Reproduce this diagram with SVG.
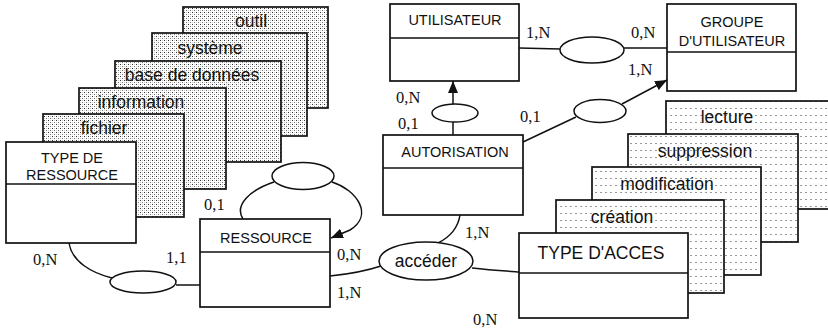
<svg xmlns="http://www.w3.org/2000/svg" width="828" height="330" viewBox="0 0 828 330">
<style>
.box{fill:#fff;stroke:#111;stroke-width:1.7}
.dense{fill:url(#dense);stroke:#111;stroke-width:1.7}
.sparse{fill:url(#sparse);stroke:#111;stroke-width:1.7}
.ln{fill:none;stroke:#111;stroke-width:1.5}
.ell{fill:#fff;stroke:#111;stroke-width:1.5}
.t{font-family:"Liberation Sans",Arial,sans-serif;font-size:14.5px;fill:#111;text-anchor:middle}
.tl{font-family:"Liberation Sans",Arial,sans-serif;font-size:17.5px;fill:#111;text-anchor:middle}
.c{font-family:"Liberation Serif","Times New Roman",serif;font-size:16.5px;fill:#111}
</style>
<defs>
<pattern id="dense" width="4" height="4" patternUnits="userSpaceOnUse">
<rect width="4" height="4" fill="#fff"/>
<rect x="0" y="0" width="1" height="1" fill="#333"/>
<rect x="2" y="2" width="1" height="1" fill="#777"/>
<rect x="2" y="0" width="1" height="1" fill="#ccc"/>
<rect x="0" y="2" width="1" height="1" fill="#ccc"/>
</pattern>
<pattern id="sparse" width="5" height="7" patternUnits="userSpaceOnUse">
<rect width="5" height="7" fill="#fff"/>
<rect x="0" y="3" width="2" height="1" fill="#999"/>
</pattern>
<marker id="arr" viewBox="0 0 12 10" refX="12" refY="5" markerWidth="12" markerHeight="10" markerUnits="userSpaceOnUse" orient="auto">
<path d="M0,0 L12,5 L0,10 z" fill="#111"/>
</marker>
</defs>
<rect width="828" height="330" fill="#fff"/>

<g id="stack-ressource">
<rect class="dense" x="183" y="7" width="145" height="101"/>
<text class="tl" x="251" y="27">outil</text>
<rect class="dense" x="152" y="33" width="155" height="103"/>
<text class="tl" x="210" y="54">système</text>
<rect class="dense" x="115" y="61" width="166" height="101"/>
<text class="tl" x="192" y="81">base de données</text>
<rect class="dense" x="79" y="88" width="147" height="101"/>
<text class="tl" x="141" y="108">information</text>
<rect class="dense" x="43" y="114" width="141" height="103"/>
<text class="tl" x="104" y="134">fichier</text>
</g>

<g id="stack-acces">
<rect class="sparse" x="666" y="101" width="170" height="108"/>
<text class="tl" x="727" y="123">lecture</text>
<rect class="sparse" x="628" y="134" width="170" height="108"/>
<text class="tl" x="705" y="157">suppression</text>
<rect class="sparse" x="592" y="167" width="169" height="108"/>
<text class="tl" x="667" y="190">modification</text>
<rect class="sparse" x="556" y="200" width="168" height="93"/>
<text class="tl" x="622" y="223">création</text>
</g>

<g id="connectors">
<path class="ln" d="M519,48 L560,49"/>
<path class="ln" d="M624,48 L667,48"/>
<path class="ln" d="M453,135 L453,122"/>
<path class="ln" d="M453,104 L453,81" marker-end="url(#arr)"/>
<path class="ln" d="M523,142 L576,117"/>
<path class="ln" d="M622,104 L667,80" marker-end="url(#arr)"/>
<path class="ln" d="M69,243 C72,262 92,273 112,278"/>
<path class="ln" d="M176,285 L200,285"/>
<path class="ln" d="M274,182 C250,190 234,205 243,219"/>
<path class="ln" d="M332,182 C357,190 374,215 350,230 L331,238" marker-end="url(#arr)"/>
<path class="ln" d="M330,276 C350,274 366,271 381,266"/>
<path class="ln" d="M438,243 C450,237 458,228 460,215"/>
<path class="ln" d="M472,268 C490,270 505,271 519,272"/>
</g>

<g id="rel-utilisateur-groupe"><ellipse class="ell" cx="592" cy="50" rx="32" ry="13"/></g>
<g id="rel-autorisation-utilisateur"><ellipse class="ell" cx="455" cy="113" rx="23" ry="9"/></g>
<g id="rel-autorisation-groupe"><ellipse class="ell" cx="600" cy="111" rx="26" ry="11.5"/></g>
<g id="rel-type-ressource"><ellipse class="ell" cx="143" cy="282" rx="33" ry="11"/></g>
<g id="rel-ressource-self"><ellipse class="ell" cx="303" cy="176" rx="31" ry="13.5"/></g>
<g id="rel-acceder"><ellipse class="ell" cx="426" cy="261" rx="47" ry="19"/><text class="tl" x="426" y="267">accéder</text></g>

<g id="type-ressource">
<rect class="box" x="6" y="142" width="130" height="101"/>
<line class="ln" x1="6" y1="184" x2="136" y2="184"/>
<text class="t" x="72" y="163">TYPE DE</text>
<text class="t" x="72" y="180">RESSOURCE</text>
</g>

<g id="ressource">
<rect class="box" x="200" y="219" width="130" height="88"/>
<line class="ln" x1="200" y1="252" x2="330" y2="252"/>
<text class="t" x="266" y="243">RESSOURCE</text>
</g>

<g id="utilisateur">
<rect class="box" x="390" y="4" width="129" height="77"/>
<line class="ln" x1="390" y1="38" x2="519" y2="38"/>
<text class="t" x="455" y="25">UTILISATEUR</text>
</g>

<g id="groupe">
<rect class="box" x="667" y="4" width="129" height="87"/>
<line class="ln" x1="667" y1="52" x2="796" y2="52"/>
<text class="t" x="732" y="27">GROUPE</text>
<text class="t" x="732" y="46">D'UTILISATEUR</text>
</g>

<g id="autorisation">
<rect class="box" x="383" y="135" width="140" height="80"/>
<line class="ln" x1="383" y1="168" x2="523" y2="168"/>
<text class="t" x="455" y="157">AUTORISATION</text>
</g>

<g id="type-acces">
<rect class="box" x="519" y="233" width="169" height="85"/>
<line class="ln" x1="519" y1="273" x2="688" y2="273"/>
<text class="tl" x="601" y="259">TYPE D'ACCES</text>
</g>

<g id="cardinalities">
<text class="c" x="526" y="38">1,N</text>
<text class="c" x="631" y="38">0,N</text>
<text class="c" x="628" y="75">1,N</text>
<text class="c" x="396" y="103">0,N</text>
<text class="c" x="398" y="129">0,1</text>
<text class="c" x="520" y="122">0,1</text>
<text class="c" x="204" y="210">0,1</text>
<text class="c" x="33" y="265">0,N</text>
<text class="c" x="166" y="263">1,1</text>
<text class="c" x="337" y="260">0,N</text>
<text class="c" x="337" y="298">1,N</text>
<text class="c" x="465" y="238">1,N</text>
<text class="c" x="473" y="325">0,N</text>
</g>
</svg>
